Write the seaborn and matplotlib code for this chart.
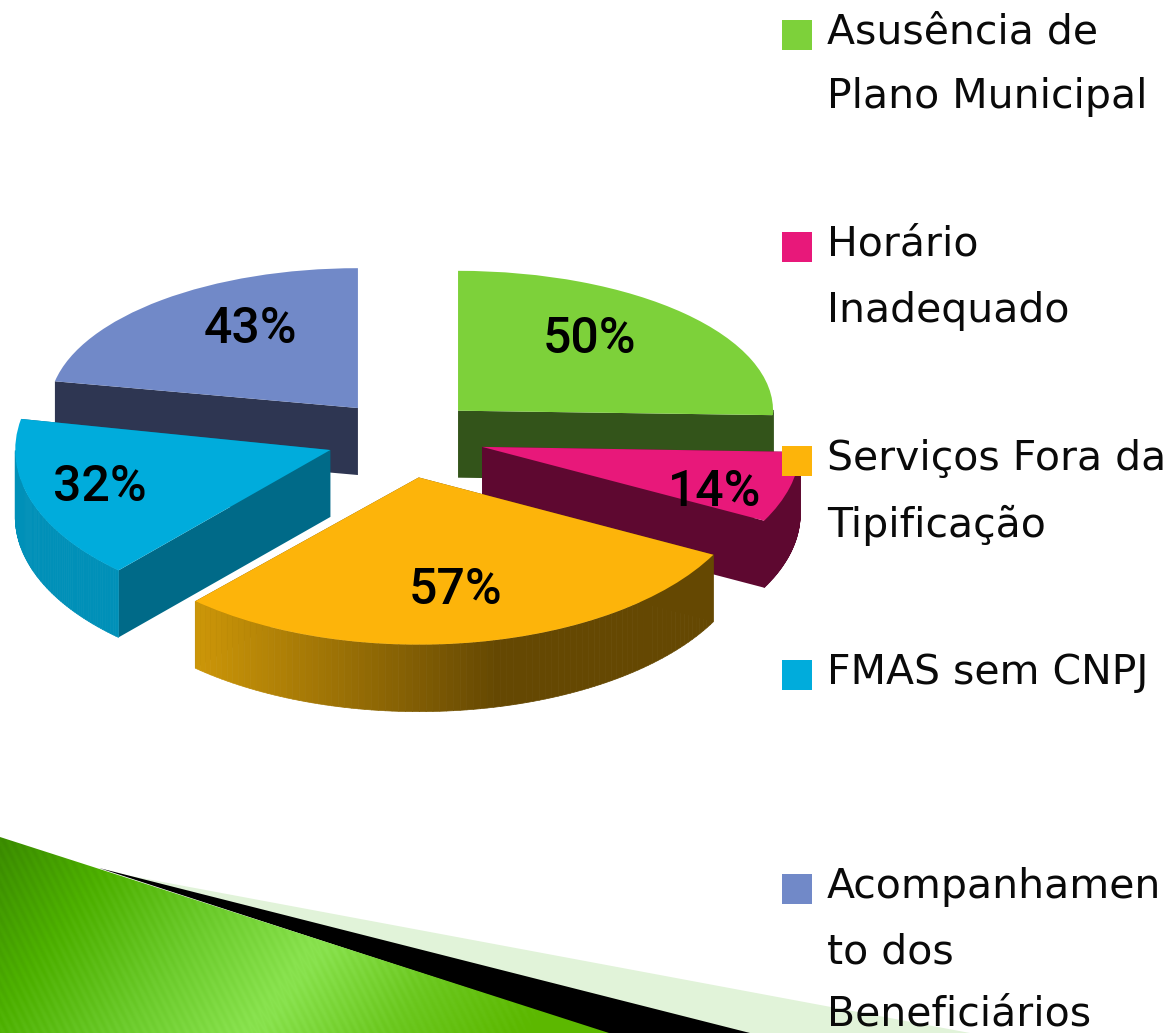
import numpy as np
import matplotlib
matplotlib.use("Agg")
import matplotlib.pyplot as plt
import seaborn as sns
from matplotlib.collections import PolyCollection
from matplotlib.patches import Polygon, Rectangle
from matplotlib.transforms import Affine2D
from matplotlib.colors import LinearSegmentedColormap, to_rgb

# ---- data ----
categories = ["Asusência de\nPlano Municipal", "Horário\nInadequado",
              "Serviços Fora da\nTipificação", "FMAS sem CNPJ",
              "Acompanhamen\nto dos\nBeneficiários"]
values = [50, 14, 57, 32, 43]
top_colors = ["#7dd13a", "#e8187a", "#fdb40a", "#00acdc", "#7189c8"]
cut_colors = ["#33541a", "#5e0830", "#6a4a02", "#006a88", "#2e3652"]
rim_left = ["#33541a", "#5e0830", "#cc9608", "#0090b8", "#2e3652"]
rim_right = ["#33541a", "#5e0830", "#654802", "#0098c2", "#2e3652"]
z_orders = [2, 4, 5, 3, 1]
# perspective of the 3D view, per slice: x scale, y scale, x nudge px, y nudge px
persp_sx = [1.0, 1.01, 1.055, 1.0, 0.98]
persp_sy = [0.92, 1.05, 1.10, 1.07, 0.92]
nudge_x = [0, 6, 0, -7, -2]
nudge_y = [-2, 1, 6, 2, -2]
label_px = [(589, 337), (715, 490), (456, 588), (100, 485), (250, 327)]
legend_y = [(31, 95), (243, 309), (457, 523), (671,), (885, 950, 1013)]

W, H = 1165, 1033
RX, RY, DEPTH = 315.0, 152.0, 67.0
CX, CY = 406.0, 437.0
EXPLODE = 0.23

sns.set_theme(style="white")
plt.rcParams["font.family"] = ["DejaVu Sans"]
palette = sns.color_palette(top_colors)

fig = plt.figure(figsize=(W / 100, H / 100), dpi=100, facecolor="white")

# ---- decorative corner ----
bg = fig.add_axes([0, 0, 1, 1], zorder=0)
bg.axis("off")
bg.add_patch(Polygon([(120, 874), (970, 1033), (700, 1033)],
                     closed=True, fc="#e1f3d9", ec="none", zorder=1))
bg.add_patch(Polygon([(99, 868), (750, 1033), (605, 1033)],
                     closed=True, fc="black", ec="none", zorder=2))
yy, xx = np.mgrid[830:1033, 0:640]
t = (xx * 0.8 + (yy - 830) * 0.6) / 540.0
stripes = 0.018 * np.sin((xx * 0.9 - (yy - 830) * 0.45) / 1.2)
grad = LinearSegmentedColormap.from_list(
    "g", ["#3a8a00", "#4db000", "#6ccb2c", "#8ae350", "#6cc820", "#5cb800"])
img = grad(np.clip(t + stripes, 0, 1))
im = bg.imshow(img, extent=(0, 640, 1033, 830), aspect="auto", zorder=3)
clip = Polygon([(0, 837), (609, 1033), (0, 1033)], closed=True,
               transform=bg.transData, fc="none", ec="none")
bg.add_patch(clip)
im.set_clip_path(clip)
bg.set_xlim(0, W)
bg.set_ylim(H, 0)

# ---- pie ----
ax = fig.add_axes([0, 0, 1, 1], zorder=1)
ax.patch.set_alpha(0)
wedges, _ = ax.pie(values, colors=palette, startangle=90, counterclock=False,
                   radius=RX, explode=[EXPLODE * RX] * len(values),
                   wedgeprops=dict(linewidth=0))
ax.set_aspect("auto")
ax.set_xlim(-CX, W - CX)
k = RX / RY
ax.set_ylim((CY - H) * k, CY * k)
ax.axis("off")
d = DEPTH * k

for w, zo, cut, rl, rr, sx, sy, nx, ny in zip(wedges, z_orders, cut_colors, rim_left, rim_right,
                                              persp_sx, persp_sy, nudge_x, nudge_y):
    c0x, c0y = w.center
    cx, cy = c0x + nx, c0y - ny * k
    w.set_zorder(zo + 0.3)
    w.set_transform(Affine2D().translate(-c0x, -c0y).scale(sx, sy).translate(cx, cy) + ax.transData)
    a, b = np.radians(w.theta1), np.radians(w.theta2)
    # cut faces, only below the top surface
    for ang in (a, b):
        ex, ey = cx + sx * RX * np.cos(ang), cy + sy * RX * np.sin(ang)
        ax.add_patch(Polygon([(cx, cy), (ex, ey), (ex, ey - d), (cx, cy - d)],
                             closed=True, fc=cut, ec="none", lw=0, zorder=zo))
    # outer rim, front-facing part only
    th = np.linspace(a, b, 90)
    quads, cols = [], []
    c0, c1 = np.array(to_rgb(rl)), np.array(to_rgb(rr))
    xs = cx + sx * RX * np.cos(th)
    xmin, xmax = (cx - RX * 0.70, cx + RX * 0.25)
    for i in range(len(th) - 1):
        if np.sin(0.5 * (th[i] + th[i + 1])) >= 0:
            continue
        x0, x1 = xs[i], xs[i + 1]
        y0, y1 = cy + sy * RX * np.sin(th[i]), cy + sy * RX * np.sin(th[i + 1])
        quads.append([(x0, y0), (x1, y1), (x1, y1 - d), (x0, y0 - d)])
        f = np.clip((0.5 * (x0 + x1) - xmin) / (xmax - xmin), 0, 1)
        cols.append(c0 + (c1 - c0) * f)
    if quads:
        ax.add_collection(PolyCollection(quads, facecolors=cols, edgecolors=cols,
                                         linewidths=0.5, zorder=zo + 0.1))

# ---- percent labels ----
for v, (x, y) in zip(values, label_px):
    fig.text(x / W, 1 - (y + 2) / H, f"{v}%", ha="center", va="center", color="black",
             fontsize=36, family="Roboto", fontweight="medium", zorder=5)

# ---- legend ----
lg = fig.add_axes([0, 0, 1, 1], zorder=3)
lg.set_xlim(0, W)
lg.set_ylim(H, 0)
lg.axis("off")
for name, col, ys in zip(categories, palette, legend_y):
    lg.add_patch(Rectangle((782, ys[0] - 11), 30, 30, fc=col, ec="none"))
    for line, y in zip(name.split("\n"), ys):
        lg.text(827, y + 2, line, ha="left", va="center", fontsize=29.5, color="#0a0a0a",
                clip_on=False)

fig.savefig("out.png", dpi=100)
